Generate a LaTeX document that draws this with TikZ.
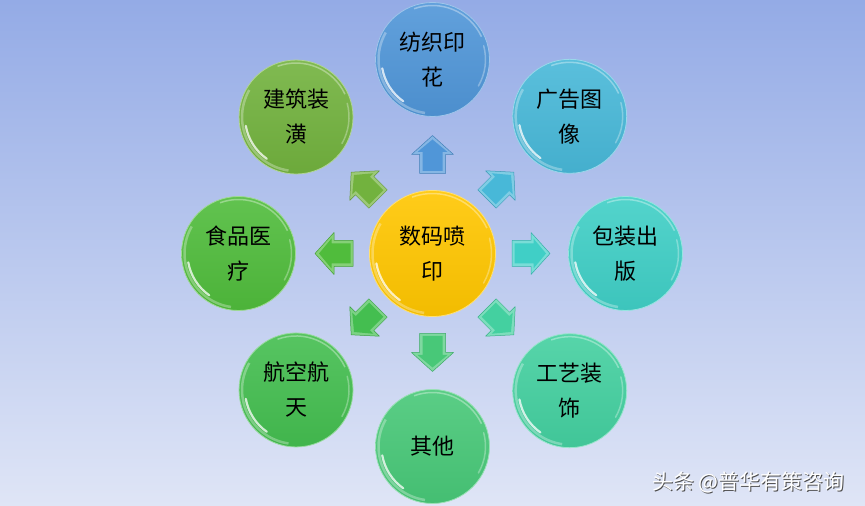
\documentclass[tikz,border=0pt]{standalone}
\usepackage{fontspec}
\newfontfamily\cjk{Noto Sans CJK SC}
\usetikzlibrary{calc}
\definecolor{bgtop}{HTML}{94ABE6}
\definecolor{bgbot}{HTML}{DFE5F6}
\definecolor{cblue}{HTML}{5096D8}
\definecolor{ccyan}{HTML}{48B8D8}
\definecolor{cturq}{HTML}{40CFC6}
\definecolor{cteal}{HTML}{44D0A0}
\definecolor{cgreenA}{HTML}{48C878}
\definecolor{cgreenB}{HTML}{44BE50}
\definecolor{cgreenC}{HTML}{50BC3C}
\definecolor{colive}{HTML}{72B23E}
\definecolor{cgold}{HTML}{FFC600}
\tikzset{
  ball/.style={circle, minimum size=114pt, inner sep=0pt,
    top color=#1!90!white, bottom color=#1!95!black,
    draw=#1!55!white, line width=0.8pt,
    font=\cjk\fontsize{22}{35}\selectfont, align=center, text=black},
  pics/barrow/.style={code={
    \fill[#1!70!white] (-19,-13) -- (0,-13) -- (0,-21) -- (19,0) -- (0,21) -- (0,13) -- (-19,13) -- cycle;
    \fill[#1] (-16.5,-10) -- (2.5,-10) -- (2.5,-15) -- (15,0) -- (2.5,15) -- (2.5,10) -- (-16.5,10) -- cycle;
    \draw[#1!85!black, line width=0.5pt, line join=round] (-19,-13) -- (0,-13) -- (0,-21) -- (19,0) -- (0,21) -- (0,13) -- (-19,13) -- cycle;
  }}
}
\newcommand\glossball[2]{%
  \draw[white, opacity=.3, line width=2.5pt] ($(#1.center)+(150:#2-3)$) arc[start angle=150, end angle=262, radius=#2-3];
  \draw[white, opacity=.75, line width=2.2pt, line cap=round] ($(#1.center)+(190:#2-6)$) arc[start angle=190, end angle=235, radius=#2-6];
  \draw[white, opacity=.35, line width=1.5pt] ($(#1.center)+(25:#2-3)$) arc[start angle=25, end angle=110, radius=#2-3];
  \draw[white, opacity=.3, line width=1.5pt, line cap=round] ($(#1.center)+(-30:#2-4)$) arc[start angle=-30, end angle=15, radius=#2-4];
}
\begin{document}
\begin{tikzpicture}[x=1pt,y=1pt]
\shade[top color=bgtop, bottom color=bgbot] (0,0) rectangle (865,506);
\useasboundingbox (0,0) rectangle (865,506);
\coordinate (C) at (432.5,252.5);

% central node
\node[ball=cgold, minimum size=126pt] (center) at (C) {数码喷\\印};

% outer nodes
\node[ball=cblue]   (n1) at ($(C)+(90:194)$)   {纺织印\\花};
\node[ball=ccyan]   (n2) at ($(C)+(45:194)$)   {广告图\\像};
\node[ball=cturq]   (n3) at ($(C)+(0:193)$)    {包装出\\版};
\node[ball=cteal]   (n4) at ($(C)+(-45:194)$)  {工艺装\\饰};
\node[ball=cgreenA] (n5) at ($(C)+(-90:193)$)  {其他};
\node[ball=cgreenB] (n6) at ($(C)+(-135:193)$) {航空航\\天};
\node[ball=cgreenC] (n7) at ($(C)+(180:194)$)  {食品医\\疗};
\node[ball=colive]  (n8) at ($(C)+(135:193)$)  {建筑装\\潢};

\glossball{center}{63}
\foreach \n in {n1,n2,n3,n4,n5,n6,n7,n8}{\glossball{\n}{57}}

% block arrows
\pic[rotate=90]   at ($(C)+(90:99)$)   {barrow=cblue};
\pic[rotate=45]   at ($(C)+(45:96)$)   {barrow=ccyan};
\pic[rotate=0]    at ($(C)+(0:98.5)$)  {barrow=cturq};
\pic[rotate=-45]  at ($(C)+(-45:96)$)  {barrow=cteal};
\pic[rotate=-90]  at ($(C)+(-90:99)$)  {barrow=cgreenA};
\pic[rotate=-135] at ($(C)+(-135:96)$) {barrow=cgreenB};
\pic[rotate=180]  at ($(C)+(180:98.5)$){barrow=cgreenC};
\pic[rotate=135]  at ($(C)+(135:96)$)  {barrow=colive};

% watermark
\node[font=\cjk\fontsize{21}{21}\selectfont, text=black!70] (wmshadow) at (749.5,23) {头条 @普华有策咨询};
\node[font=\cjk\fontsize{21}{21}\selectfont, text=white] (wm) at (748.5,24) {头条 @普华有策咨询};
\end{tikzpicture}
\end{document}
